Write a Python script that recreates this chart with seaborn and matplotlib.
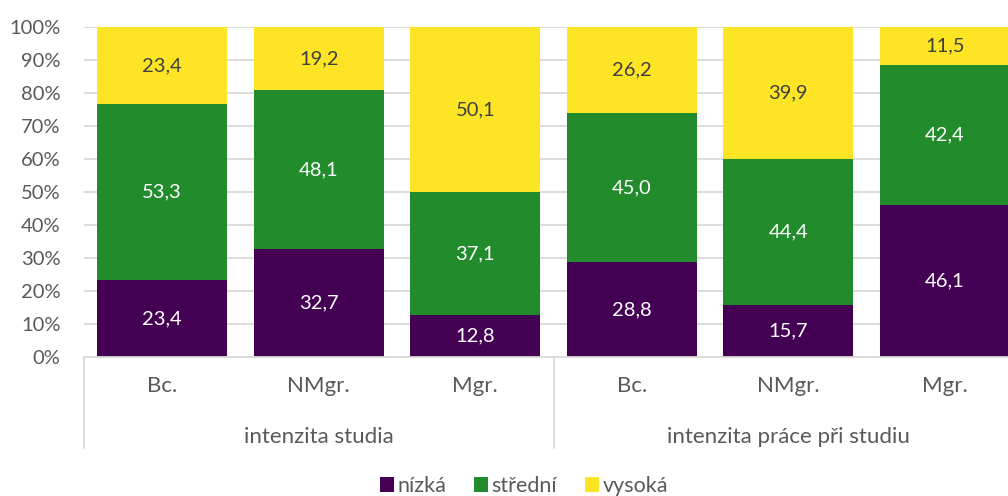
import matplotlib
matplotlib.use("Agg")
import matplotlib.pyplot as plt
import matplotlib.transforms as mtransforms
from matplotlib.patches import Patch
import seaborn as sns
import pandas as pd
import numpy as np

groups = ["intenzita studia", "intenzita práce při studiu"]
levels = ["Bc.", "NMgr.", "Mgr."]
series = ["nízká", "střední", "vysoká"]
nizka = [23.4, 32.7, 12.8, 28.8, 15.7, 46.1]
stredni = [53.3, 48.1, 37.1, 45.0, 44.4, 42.4]
vysoka = [23.4, 19.2, 50.1, 26.2, 39.9, 11.5]
yticks = [0, 10, 20, 30, 40, 50, 60, 70, 80, 90, 100]

colors = {"nízká": "#440154", "střední": "#228B2B", "vysoká": "#FDE525"}
text_colors = {"nízká": "white", "střední": "white", "vysoká": "#404040"}

sns.set_style("white")
plt.rcParams["font.family"] = ["Lato", "DejaVu Sans"]

cats = [f"{g}|{l}" for g in groups for l in levels]
df = pd.DataFrame({"cat": cats, "nízká": nizka, "střední": stredni, "vysoká": vysoka})
tot = df[series].sum(axis=1)
for s in series:
    df[s + "_p"] = df[s] / tot * 100
df["c1"] = df["nízká_p"]
df["c2"] = df["nízká_p"] + df["střední_p"]
df["c3"] = df["c2"] + df["vysoká_p"]

fig = plt.figure(figsize=(10.08, 4.96), dpi=100)
W, H = 1008, 496
ax = fig.add_axes([84 / W, (H - 357) / H, 1 - 84 / W, (357 - 27) / H])

bw = 130 / 156.5
for col, s in [("c3", "vysoká"), ("c2", "střední"), ("c1", "nízká")]:
    sns.barplot(data=df, x="cat", y=col, order=cats, color=colors[s],
                width=bw, ax=ax, saturation=1, errorbar=None, zorder=3,
                linewidth=0, edgecolor="none")

ax.set_xlim(-0.5, -0.5 + (W - 84) / 156.5)
ax.set_ylim(0, 100)
ax.set_yticks(yticks)
ax.set_yticklabels([f"{t}%" for t in yticks], color="#595959", fontsize=14.5)
ax.tick_params(axis="y", length=0, pad=17)
ax.set_xticks([])
ax.set_xlabel("")
ax.set_ylabel("")
for y in yticks[1:]:
    ax.axhline(y, color="#D9D9D9", lw=1.3, zorder=1)
for sp in ["top", "right", "left"]:
    ax.spines[sp].set_visible(False)
ax.spines["bottom"].set_color("#D9D9D9")
ax.spines["bottom"].set_linewidth(1.3)
ax.spines["bottom"].set_zorder(4)

# value labels
bases = {"nízká": np.zeros(6), "střední": df["c1"].values, "vysoká": df["c2"].values}
for s in series:
    for i in range(6):
        v = df[s].values[i]
        y = bases[s][i] + df[s + "_p"].values[i] / 2
        ax.text(i, y, f"{v:.1f}".replace(".", ","), ha="center", va="center",
                color=text_colors[s], fontsize=14.5, zorder=5)

# category axis labels
trans = mtransforms.blended_transform_factory(ax.transData, ax.transAxes)
y_lvl = -(386 - 357) / 330
y_grp = -(437 - 357) / 330
y_sep = -(448 - 357) / 330
for i, c in enumerate(cats):
    ax.text(i, y_lvl, c.split("|")[1], transform=trans, ha="center", va="center",
            color="#595959", fontsize=16)
for g, gname in enumerate(groups):
    ax.text(g * 3 + 1, y_grp, gname, transform=trans, ha="center", va="center",
            color="#595959", fontsize=16)
for xs in [-0.5, 2.5]:
    ax.plot([xs, xs], [0, y_sep], transform=trans, color="#D9D9D9", lw=1.3,
            clip_on=False)

handles = [Patch(facecolor=colors[s], edgecolor="none", label=s) for s in series]
fig.legend(handles=handles, loc="center", bbox_to_anchor=(524 / W, (H - 486) / H),
           ncol=3, frameon=False, fontsize=15.5, labelcolor="#595959",
           handlelength=0.65, handleheight=0.65, handletextpad=0.15, columnspacing=1.3)

fig.savefig("out.png", dpi=100)
